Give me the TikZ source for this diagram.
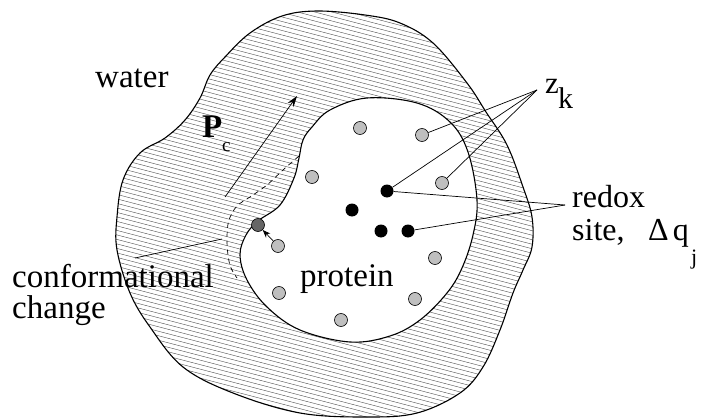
\documentclass[tikz,border=0pt]{standalone}
\usepackage{fontspec}
\setmainfont{Liberation Serif}
\usetikzlibrary{arrows.meta}
\begin{document}
\begin{tikzpicture}[x=1pt,y=-1pt,
  gdot/.style={circle,draw,fill=black!25,inner sep=0pt,minimum size=13pt,line width=0.6pt},
  bdot/.style={circle,fill=black,inner sep=0pt,minimum size=13pt},
  ddot/.style={circle,draw,fill=black!60,inner sep=0pt,minimum size=13pt,line width=0.6pt},
  lbl/.style={inner sep=0pt,anchor=base west,font=\fontsize{33}{36}\selectfont},
  conn/.style={line width=0.7pt},
  hatch/.style={line width=0.4pt,black!70},
  border/.style={line width=1.1pt}]
\useasboundingbox (0,0) rectangle (702,420);
% hatched water shell
\begin{scope}[smooth cycle,tension=0.6,even odd rule]
\clip
 plot coordinates {(317,11) (365,15) (400,23) (433,43) (467,83) (486,112) (507,145) (523,187) (532,217) (532,247) (523,270) (513,293) (500,330) (483,367) (460,393) (417,413) (367,417) (300,413) (233,393) (183,367) (150,327) (130,293) (117,250) (117,217) (123,180) (140,153) (165,138) (185,120) (200,98) (210,75) (225,57) (250,33) (282,16)}
 plot coordinates {(303,140) (312,127) (330,110) (367,98) (417,103) (450,122) (468,152) (477,200) (473,235) (462,268) (447,293) (420,320) (390,336) (350,342) (300,330) (267,307) (247,280) (240,255) (246,235) (258,221) (280,205) (294,178) (299,158)};
\foreach \c in {-125,-120.5,...,430} \draw[hatch] (100,\c) -- (560,\c+120);
\end{scope}
\draw[border] plot[smooth cycle,tension=0.6] coordinates {(317,11) (365,15) (400,23) (433,43) (467,83) (486,112) (507,145) (523,187) (532,217) (532,247) (523,270) (513,293) (500,330) (483,367) (460,393) (417,413) (367,417) (300,413) (233,393) (183,367) (150,327) (130,293) (117,250) (117,217) (123,180) (140,153) (165,138) (185,120) (200,98) (210,75) (225,57) (250,33) (282,16)};
\draw[border] plot[smooth cycle,tension=0.6] coordinates {(303,140) (312,127) (330,110) (367,98) (417,103) (450,122) (468,152) (477,200) (473,235) (462,268) (447,293) (420,320) (390,336) (350,342) (300,330) (267,307) (247,280) (240,255) (246,235) (258,221) (280,205) (294,178) (299,158)};
% dashed former boundary
\draw[line width=0.7pt,dash pattern=on 5pt off 4pt] plot[smooth,tension=0.6] coordinates {(299,156) (283,170) (267,185) (250,197) (237,206) (229,220) (227,237) (228,255) (231,268) (237,278)};
% P_c arrow
\coordinate (ps) at (225,197);
\coordinate (pe) at (297,96);
\draw[conn,-{Stealth[length=11pt,width=7pt]}] (ps) -- (pe);
% conformational change pointer
\coordinate (cs) at (135,258);
\coordinate (ce) at (222,239);
\draw[conn] (cs) -- (ce);
% dots
\node[gdot] (g1) at (360,128) {};
\node[gdot] (g2) at (422,135) {};
\node[gdot] (g3) at (312,177) {};
\node[gdot] (g4) at (442,183) {};
\node[gdot] (g5) at (278,246) {};
\node[gdot] (g6) at (435,258) {};
\node[gdot] (g7) at (279,293) {};
\node[gdot] (g8) at (415,299) {};
\node[gdot] (g9) at (341,320) {};
\node[bdot] (b1) at (387,191) {};
\node[bdot] (b2) at (352,210) {};
\node[bdot] (b3) at (381,231) {};
\node[bdot] (b4) at (408,231) {};
\node[ddot] (d1) at (258,225) {};
\draw[conn,-{Stealth[length=8pt,width=6pt]}] (g5) -- (d1);
% labels
\coordinate (zk) at (537,90);
\coordinate (rd) at (565,205);
\draw[conn] (zk) -- (g2);
\draw[conn] (zk) -- (b1);
\draw[conn] (zk) -- (g4);
\draw[conn] (rd) -- (b1);
\draw[conn] (rd) -- (b4);
\node[lbl] (water) at (95,88) {water};
\node[lbl,font=\bfseries\fontsize{33}{36}\selectfont] (P) at (202,137) {P};
\node[lbl,font=\fontsize{19}{20}\selectfont] (Pc) at (222,151) {c};
\node[lbl,font=\fontsize{31}{34}\selectfont] (z) at (545,93) {z};
\node[lbl,font=\fontsize{30}{34}\selectfont] (k) at (558,108) {k};
\node[lbl] (prot) at (300,286) {protein};
\node[lbl] (conf) at (12,287) {conformational};
\node[lbl] (chg) at (12,318) {change};
\node[lbl,font=\fontsize{32}{34}\selectfont] (redox) at (572,207) {redox};
\node[lbl,font=\fontsize{32}{34}\selectfont] (site) at (572,240) {site,};
\node[lbl,font=\fontsize{32}{34}\selectfont] (dq) at (648,240) {Δ\hspace{4pt}q};
\node[lbl,font=\fontsize{22}{24}\selectfont] (j) at (691,264) {j};
\end{tikzpicture}
\end{document}
